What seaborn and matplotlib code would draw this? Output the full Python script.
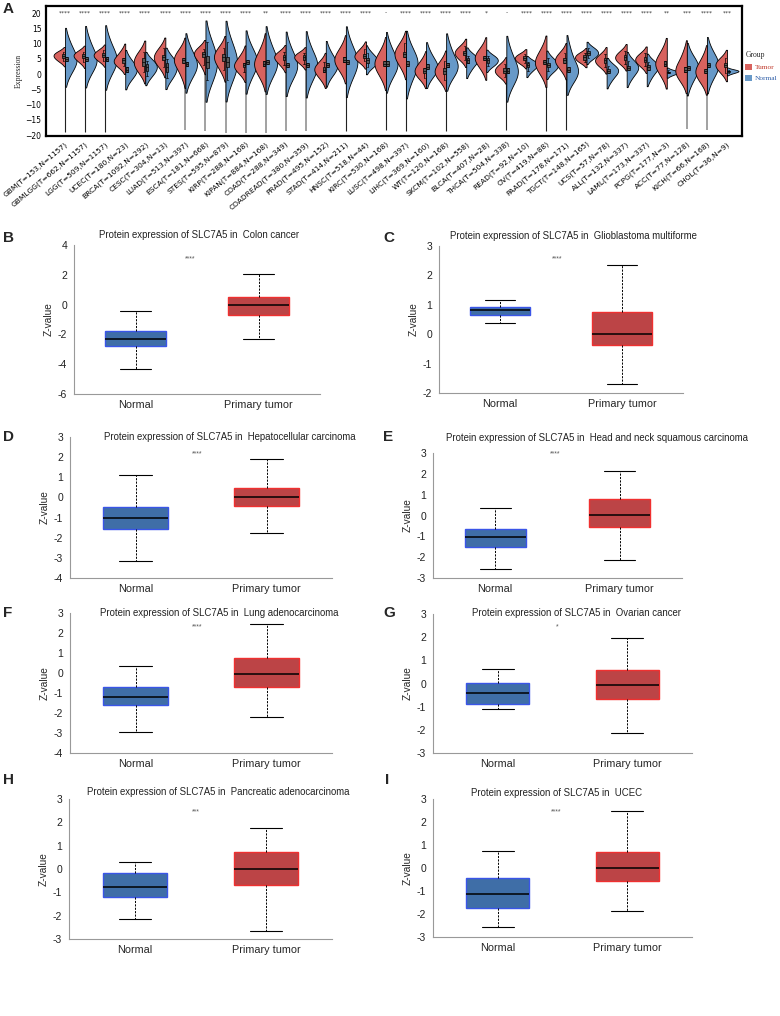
import matplotlib
matplotlib.use("Agg")
import pandas as pd
import matplotlib.pyplot as plt
from matplotlib.patches import Patch
import seaborn as sns

# ---- panel A data (pan-cancer split violins) ----
cancers = ["GBM", "GBMLGG", "LGG", "UCEC", "BRCA", "CESC", "LUAD", "ESCA", "STES", "KIRP",
           "KIPAN", "COAD", "COADREAD", "PRAD", "STAD", "HNSC", "KIRC", "LUSC", "LIHC", "WT",
           "SKCM", "BLCA", "THCA", "READ", "OV", "PAAD", "TGCT", "UCS", "ALL", "LAML",
           "PCPG", "ACC", "KICH", "CHOL"]
n_tumor = [153, 662, 509, 180, 1092, 304, 513, 181, 595, 288, 884, 288, 380, 495, 414, 518, 530,
           498, 369, 120, 102, 407, 504, 92, 419, 178, 148, 57, 132, 173, 177, 77, 66, 36]
n_normal = [1157, 1157, 1157, 23, 292, 13, 397, 668, 879, 168, 168, 349, 359, 152, 211, 44, 168,
            397, 160, 168, 558, 28, 338, 10, 88, 171, 165, 78, 337, 337, 3, 128, 168, 9]
signif = ["****", "****", "****", "****", "****", "****", "****", "****", "****", "****",
          "**", "****", "****", "****", "****", "****", "-", "****", "****", "****",
          "****", "*", "-", "****", "****", "****", "****", "****", "****", "****",
          "**", "***", "****", "***"]

tumor_vals = [
    [4.3, 5.3, 6.0, 6.7, 7.2], [4.0, 5.3, 6.0, 6.7, 7.4], [4.4, 5.5, 6.2, 6.9, 7.8],
    [2.7, 3.8, 4.5, 5.2, 7.4], [0.7, 2.8, 4.0, 5.2, 7.3], [2.4, 4.6, 5.5, 6.4, 8.6],
    [-0.2, 3.8, 4.5, 5.2, 7.7], [3.0, 5.6, 6.5, 7.4, 8.2], [1.5, 4.4, 5.5, 6.6, 8.6],
    [0.6, 2.3, 3.0, 3.7, 6.3], [-0.7, 2.8, 3.5, 4.2, 8.5], [3.0, 4.8, 5.5, 6.2, 7.2],
    [3.5, 4.8, 5.5, 6.2, 6.9], [-1.5, 0.8, 1.5, 2.2, 4.0], [1.1, 4.1, 4.8, 5.5, 8.7],
    [4.2, 5.3, 6.0, 6.7, 8.4], [-0.7, 2.8, 3.5, 4.2, 7.7], [2.5, 5.6, 6.5, 7.4, 10.1],
    [-1.4, 0.5, 1.2, 1.9, 4.4], [-2.0, 0.1, 1.0, 1.9, 4.3], [4.8, 6.3, 7.0, 7.7, 9.2],
    [1.8, 4.6, 5.3, 6.0, 8.5], [-0.8, 0.5, 1.2, 1.9, 3.3], [3.6, 4.5, 5.2, 5.9, 6.5],
    [0.2, 3.2, 4.0, 4.8, 8.3], [1.4, 3.8, 4.5, 5.2, 7.1], [4.0, 4.8, 5.5, 6.2, 6.9],
    [2.5, 3.8, 4.5, 5.2, 6.6], [3.5, 4.8, 5.5, 6.2, 7.6], [2.7, 4.1, 4.8, 5.5, 6.8],
    [-0.4, 2.8, 3.5, 4.2, 7.6], [-1.7, 0.8, 1.5, 2.2, 6.6], [-2.5, 0.3, 1.0, 1.7, 5.3],
    [0.4, 2.3, 3.0, 3.7, 5.3],
]
normal_vals = [
    [0.9, 4.3, 5.0, 5.7, 10.2], [0.9, 4.3, 5.0, 5.7, 10.6], [0.4, 4.3, 5.0, 5.7, 10.6],
    [-1.6, 0.8, 1.5, 2.2, 4.6], [-0.7, 1.2, 2.2, 3.2, 4.4], [-1.2, 0.7, 2.3, 3.8, 5.0],
    [-1.0, 2.6, 3.3, 4.0, 8.4], [-2.0, 2.0, 4.0, 6.0, 10.6], [-2.0, 2.3, 4.0, 5.7, 10.6],
    [-1.0, 3.2, 4.0, 4.8, 9.0], [-0.7, 3.2, 4.0, 4.8, 10.0], [-1.7, 2.3, 3.0, 3.7, 8.5],
    [-2.0, 2.3, 3.0, 3.7, 8.5], [-0.2, 2.3, 3.0, 3.7, 7.0], [-1.5, 3.2, 4.0, 4.8, 9.7],
    [2.5, 3.8, 4.5, 5.2, 7.0], [-0.9, 2.8, 3.5, 4.2, 8.7], [-2.2, 2.8, 3.5, 4.2, 8.5],
    [-0.6, 1.8, 2.5, 3.2, 6.6], [-0.5, 2.3, 3.0, 3.7, 8.5], [1.4, 3.8, 4.5, 5.2, 6.1],
    [2.7, 3.8, 4.5, 5.2, 6.1], [-3.4, 0.5, 1.2, 1.9, 7.0], [0.9, 2.4, 3.0, 3.6, 4.1],
    [0.9, 2.3, 3.0, 3.7, 5.3], [-1.6, 0.8, 1.5, 2.2, 7.7], [5.3, 6.3, 7.0, 7.7, 8.7],
    [-2.0, 0.3, 1.0, 1.7, 2.7], [-1.2, 1.3, 2.0, 2.7, 4.3], [-1.1, 1.5, 2.2, 2.9, 3.9],
    [-0.3, 0.4, 0.6, 0.8, 1.3], [-2.5, 1.3, 2.0, 2.7, 5.8], [-1.5, 2.3, 3.0, 3.7, 7.4],
    [0.3, 0.8, 1.0, 1.2, 1.5],
]
# long thin tails running down to the bottom of panel A
tail_color = ["k", "k", "k", None, None, None, "g", "g", "g", "g",
              "g", "g", "g", None, "k", None, "k", "k", None, "k",
              None, None, "k", None, "k", "k", None, None, None, None,
              None, "g", "g", None]
tail_bottom = [-19.0, -19.0, -19.0, None, None, None, -18.2, -18.5, -19.2, -19.3,
               -19.2, -18.5, -18.5, None, -18.5, None, -18.3, -18.5, None, -18.5,
               None, None, -18.3, None, -18.6, -18.4, None, None, None, None,
               None, -18.0, -18.4, None]

# ---- panels B-I data (whisker low, q1, median, q3, whisker high) ----
box_titles = ["Colon cancer", "Glioblastoma multiforme", "Hepatocellular carcinoma",
              "Head and neck squamous carcinoma", "Lung adenocarcinoma", "Ovarian cancer",
              "Pancreatic adenocarcinoma", "UCEC"]
box_signif = ["****", "****", "****", "****", "****", "*", "***", "****"]
box_normal = [[-4.3, -2.8, -2.3, -1.8, -0.45], [0.38, 0.65, 0.82, 0.93, 1.17],
              [-3.15, -1.55, -1.0, -0.47, 1.1], [-2.55, -1.52, -1.05, -0.65, 0.35],
              [-2.95, -1.6, -1.2, -0.7, 0.35], [-1.08, -0.87, -0.43, 0.02, 0.63],
              [-2.15, -1.22, -0.75, -0.18, 0.3], [-2.55, -1.75, -1.15, -0.45, 0.75]]
box_tumor = [[-2.3, -0.7, 0.0, 0.5, 2.05], [-1.7, -0.37, 0.0, 0.75, 2.35],
             [-1.75, -0.45, 0.0, 0.45, 1.9], [-2.15, -0.55, 0.02, 0.8, 2.15],
             [-2.2, -0.7, -0.05, 0.75, 2.45], [-2.15, -0.68, -0.05, 0.57, 1.98],
             [-2.65, -0.7, 0.0, 0.75, 1.75], [-1.88, -0.55, 0.02, 0.7, 2.5]]
box_ylim = [(-6, 4), (-2, 3), (-4, 3), (-3, 3), (-4, 3), (-3, 3), (-3, 3), (-3, 3)]
box_step = [2, 1, 1, 1, 1, 1, 1, 1]

RED, BLUE = "#d8625e", "#6799c8"
W, H = 780, 1016

sns.set_style("white")
plt.rcParams["font.family"] = ["DejaVu Sans"]

fig = plt.figure(figsize=(W / 100, H / 100), dpi=100)


def px_axes(left, top, right, bottom):
    return fig.add_axes([left / W, 1 - bottom / H, (right - left) / W, (bottom - top) / H])


def px_text(x, y, s, **kw):
    fig.text(x / W, 1 - y / H, s, **kw)


# ================= panel A =================
labels = [f"{c}(T={t},N={n})" for c, t, n in zip(cancers, n_tumor, n_normal)]
rows = []
for lab, tv, nv in zip(labels, tumor_vals, normal_vals):
    rows += [(lab, "Tumor", v) for v in tv]
    rows += [(lab, "Normal", v) for v in nv]
df = pd.DataFrame(rows, columns=["cancer", "group", "expr"])

axA = px_axes(46, 6, 742, 136)
for i, (col, lo) in enumerate(zip(tail_color, tail_bottom)):
    if col is None:
        continue
    top = max(tumor_vals[i][2], normal_vals[i][2])
    if col == "k":
        axA.vlines(i, lo, top, color="#222222", lw=0.8, zorder=0.5)
    else:
        axA.vlines(i, lo, top, color="#9a9a9a", lw=1.3, zorder=0.5)

sns.violinplot(data=df, x="cancer", y="expr", hue="group", order=labels,
               hue_order=["Tumor", "Normal"], split=True, inner=None,
               density_norm="width", width=1.15, cut=1.6, bw_adjust=1.3, saturation=1,
               palette={"Tumor": RED, "Normal": BLUE}, linewidth=0.6,
               linecolor="black", legend=False, ax=axA)
sns.boxplot(data=df, x="cancer", y="expr", hue="group", order=labels,
            hue_order=["Tumor", "Normal"], dodge=True, width=0.34, gap=0.2,
            showfliers=False, saturation=1, palette={"Tumor": "#5a5a5a", "Normal": "#5a5a5a"},
            linecolor="black", linewidth=0.5, legend=False, ax=axA)

for i, s in enumerate(signif):
    axA.text(i, 20.1, s, ha="center", va="center", fontsize=4.3, color="#333333")

axA.set_xlim(-0.95, 33.75)
axA.set_ylim(-20.3, 22.4)
axA.set_yticks(range(-20, 21, 5))
axA.set_xticks(range(len(labels)))
axA.set_xticklabels(labels, rotation=40, ha="right", rotation_mode="anchor", fontsize=5.4)
axA.tick_params(axis="both", length=2, width=0.7, pad=1.2, labelsize=5.5, colors="black")
axA.tick_params(axis="x", labelsize=5.4)
axA.set_xlabel("")
axA.set_ylabel("Expression", family="Liberation Serif", fontsize=5.5, labelpad=2)
for sp in axA.spines.values():
    sp.set_visible(True)
    sp.set_color("black")
    sp.set_linewidth(1.6)

handles = [Patch(facecolor=RED, edgecolor="none"), Patch(facecolor=BLUE, edgecolor="none")]
leg = fig.legend(handles, ["Tumor", "Normal"], title="Group", loc="upper left",
                 bbox_to_anchor=(744 / W, 1 - 50 / H), frameon=False, borderaxespad=0,
                 borderpad=0.2, prop={"family": "Liberation Serif", "size": 5.3},
                 title_fontproperties={"family": "Liberation Serif", "size": 5.5},
                 handlelength=0.9, handleheight=0.9, handletextpad=0.4,
                 labelspacing=0.6, alignment="left")
leg.get_texts()[0].set_color("#c0392b")
leg.get_texts()[1].set_color("#2f5fa8")

px_text(3, 2, "A", fontsize=11, fontweight="bold", family="Liberation Sans", va="top")

# ================= panels B-I =================
box_rects = [(74, 245, 320, 394), (439, 246, 683, 393), (70, 437, 332, 578),
             (433, 453, 682, 578), (70, 613, 332, 753), (433, 614, 692, 753),
             (69, 799, 332, 939), (433, 799, 692, 937)]
title_pos = [(199, 235), (573, 236), (230, 437), (597, 438),
             (219, 613), (576, 613), (218, 792), (557, 793)]
star_pos = [(190, 259), (557, 259), (197, 454), (555, 454),
            (197, 627), (557, 627), (196, 812), (556, 812)]
letter_pos = [(3, 231), (383, 231), (3, 430), (383, 430),
              (3, 606), (383, 606), (3, 773), (385, 773)]
letters = ["B", "C", "D", "E", "F", "G", "H", "I"]

for k in range(8):
    ax = px_axes(*box_rects[k])
    bdf = pd.DataFrame({
        "type": ["Normal"] * 5 + ["Primary tumor"] * 5,
        "z": box_normal[k] + box_tumor[k],
    })
    sns.boxplot(data=bdf, x="type", y="z", hue="type", order=["Normal", "Primary tumor"],
                palette={"Normal": "#3f6ea7", "Primary tumor": "#bc4446"}, saturation=1,
                width=0.49, whis=(0, 100), showfliers=False, linecolor="black",
                linewidth=0.8, legend=False, ax=ax,
                whiskerprops={"linestyle": (0, (2.2, 1.3)), "linewidth": 0.7},
                capprops={"linewidth": 0.8},
                medianprops={"color": "black", "linewidth": 1.1})
    for patch, ec in zip(ax.patches, ["#3a55e8", "#f03030"]):
        patch.set_edgecolor(ec)
        patch.set_linewidth(1.0)

    lo, hi = box_ylim[k]
    ax.set_ylim(lo, hi)
    ax.set_xlim(-0.5, 1.5)
    ticks = list(range(lo, hi + 1, box_step[k]))
    ax.set_yticks(ticks)
    ax.set_yticklabels([f"{t:g}" for t in ticks], family="Liberation Sans", fontsize=7.5)
    ax.set_xticks([0, 1])
    ax.set_xticklabels(["Normal", "Primary tumor"], family="Liberation Sans", fontsize=7.8)
    ax.set_xticks([-0.5, 0.5, 1.5], minor=True)
    ax.tick_params(axis="x", which="major", length=0, pad=4)
    ax.tick_params(axis="x", which="minor", length=3, width=0.7, color="#aaaaaa")
    ax.tick_params(axis="y", length=3, width=0.7, color="#888888", pad=2, labelcolor="#222222")
    ax.set_xlabel("")
    ax.set_ylabel("Z-value", family="Liberation Sans", fontsize=7.3, labelpad=3)
    for side in ["top", "right"]:
        ax.spines[side].set_visible(False)
    for side in ["left", "bottom"]:
        ax.spines[side].set_color("#999999")
        ax.spines[side].set_linewidth(0.8)

    tx, ty = title_pos[k]
    px_text(tx, ty, "Protein expression of SLC7A5 in  " + box_titles[k], ha="center",
            va="center", fontsize=6.9, family="Liberation Sans", color="#222222")
    sx, sy = star_pos[k]
    px_text(sx, sy, box_signif[k], ha="center", va="center", fontsize=5,
            family="Liberation Sans", color="#555555")
    lx, ly = letter_pos[k]
    px_text(lx, ly, letters[k], fontsize=11, fontweight="bold", family="Liberation Sans",
            va="top")

fig.savefig("out.png", dpi=100)
